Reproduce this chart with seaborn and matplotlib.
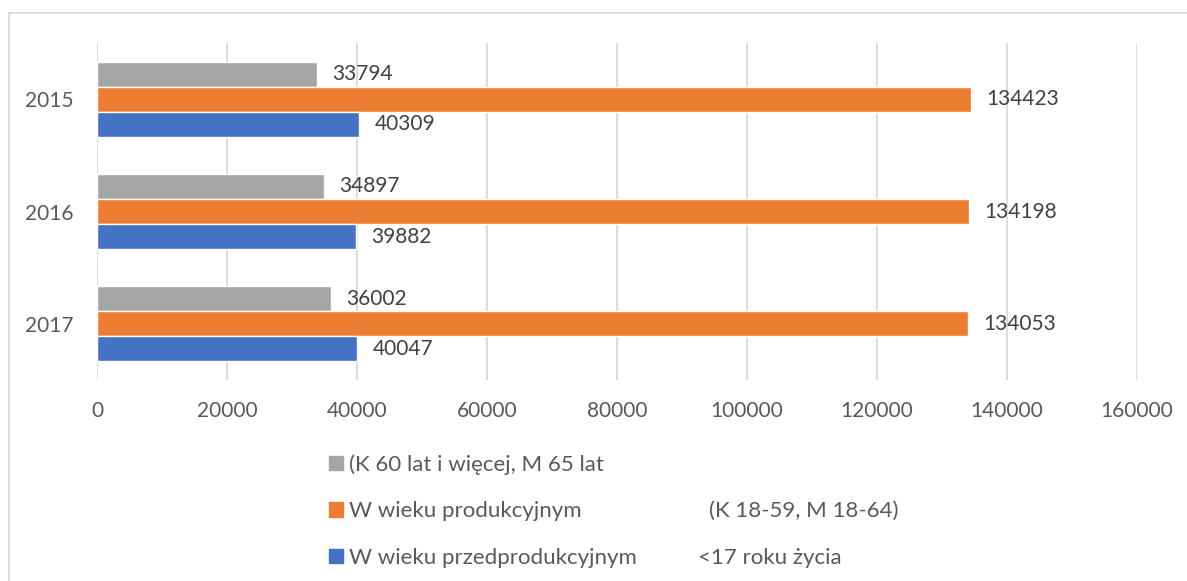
import matplotlib
matplotlib.use("Agg")
import matplotlib.pyplot as plt
import matplotlib.patches as mpatches
import seaborn as sns
import pandas as pd

years = ["2015", "2016", "2017"]
series_main = ["(K 60 lat i więcej, M 65 lat",
               "W wieku produkcyjnym",
               "W wieku przedprodukcyjnym"]
series_extra = ["", "(K 18-59, M 18-64)", "<17 roku życia"]
post_prod = [33794, 34897, 36002]
prod = [134423, 134198, 134053]
pre_prod = [40309, 39882, 40047]
colors = ["#A5A5A5", "#ED7D31", "#4472C4"]
xticks = [0, 20000, 40000, 60000, 80000, 100000, 120000, 140000, 160000]

rows = []
for name, vals in zip(series_main, [post_prod, prod, pre_prod]):
    for y, v in zip(years, vals):
        rows.append({"year": y, "value": v, "series": name})
df = pd.DataFrame(rows)

sns.set_theme(style="white")
plt.rcParams["font.family"] = ["Lato", "DejaVu Sans"]
TXT = "#595959"
FS = 15

W, H = 1187, 581
fig = plt.figure(figsize=(W / 100, H / 100), dpi=100)
ax = fig.add_axes([97 / W, 1 - 380 / H, (1137 - 97) / W, (380 - 43) / H])

sns.barplot(data=df, y="year", x="value", hue="series", hue_order=series_main,
            order=years, palette=colors, orient="h", width=0.67, gap=0,
            saturation=1, ax=ax, legend=False)

for c in ax.containers:
    ax.bar_label(c, padding=11, fontsize=FS, color="#404040")

ax.set_xlim(0, 160000)
ax.set_ylim(2.5, -0.5)
ax.set_xticks(xticks)
ax.set_xticklabels([str(t) for t in xticks])
ax.set_xlabel("")
ax.set_ylabel("")
ax.grid(axis="x", color="#D9D9D9", lw=1.3)
ax.set_axisbelow(True)
for s in ax.spines.values():
    s.set_visible(False)
ax.tick_params(axis="x", length=0, pad=15, labelsize=FS, labelcolor=TXT)
ax.tick_params(axis="y", length=0, pad=17, labelsize=FS, labelcolor=TXT)

# frame
fig.patches.append(mpatches.Rectangle((9 / W, -0.2), 1.2, 1.2 - 13 / H,
                                      transform=fig.transFigure, fill=False,
                                      edgecolor="#D9D9D9", lw=1.3))

LFS = 16
handles = [mpatches.Patch(color=c) for c in colors]
leg = fig.legend(handles, series_main, loc="upper left",
                 bbox_to_anchor=(329 / W, 1 - 454 / H), frameon=False,
                 fontsize=LFS, handlelength=0.63, handleheight=0.63,
                 handletextpad=0.27, labelspacing=1.2, labelcolor=TXT,
                 borderpad=0, borderaxespad=0)

fig.canvas.draw()
extra_x = [None, 709, 698]
for t, extra, ex in zip(leg.get_texts(), series_extra, extra_x):
    if extra:
        bb = t.get_window_extent()
        yc = (bb.y0 + bb.y1) / 2
        fig.text(ex / W, yc / H, extra, fontsize=LFS, color=TXT, va="center", ha="left")

fig.savefig("out.png", dpi=100)
